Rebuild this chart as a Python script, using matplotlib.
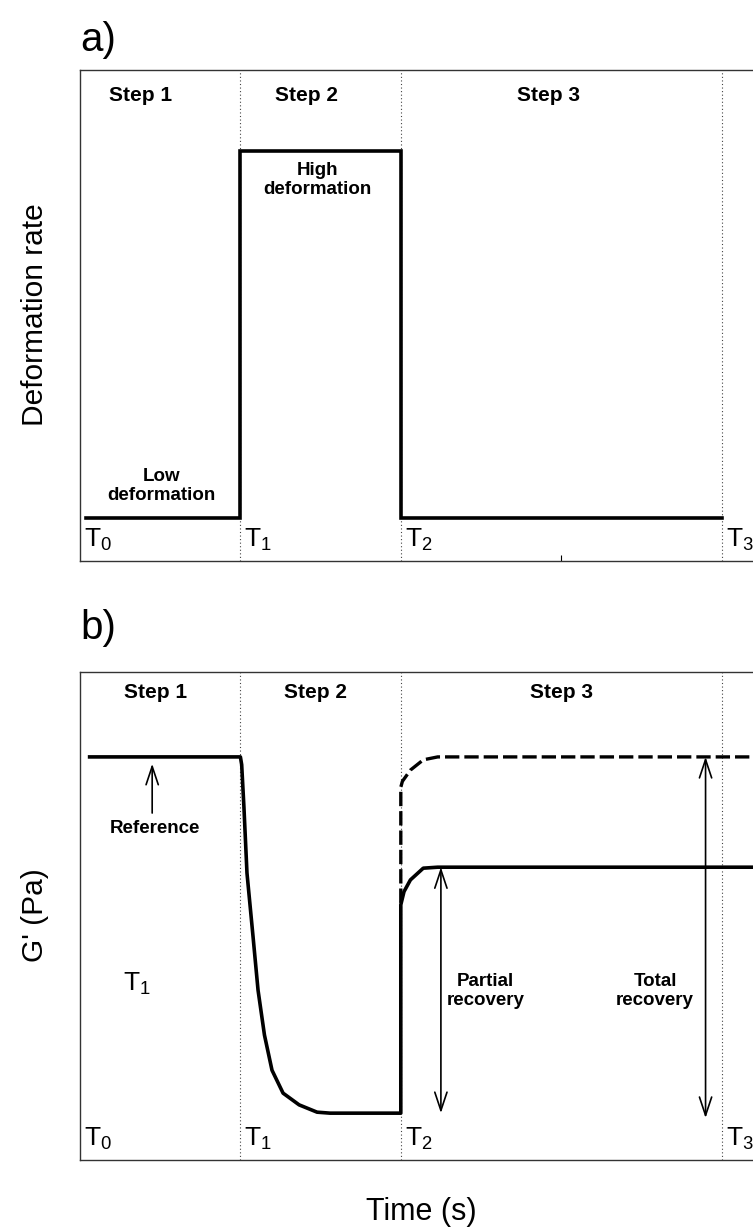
import matplotlib
matplotlib.use("Agg")
import matplotlib.pyplot as plt

plt.rcParams['font.family'] = ['Liberation Sans', 'DejaVu Sans']
plt.rcParams['mathtext.default'] = 'regular'

# time marks (T0..T3) and step labels
t_marks = [0, 1, 2, 4]
t_labels = ['0', '1', '2', '3']
step_names = ['Step 1', 'Step 2', 'Step 3']

# panel a: deformation rate step profile
rate_t = [0.04, 1.0, 1.0, 2.0, 2.0, 4.0]
rate_y = [0.088, 0.088, 0.835, 0.835, 0.088, 0.088]

# panel b: G' during step 1 and 2
g_t = [0.06, 1.0, 1.008, 1.022, 1.041, 1.079, 1.11, 1.15, 1.197, 1.266, 1.366, 1.478, 1.559, 2.0,
       2.0, 2.02, 2.06, 2.14, 2.23, 4.6]
g_y = [0.826, 0.826, 0.810, 0.723, 0.588, 0.457, 0.348, 0.256, 0.184, 0.137, 0.113, 0.098, 0.096, 0.096,
       0.523, 0.55, 0.574, 0.598, 0.600, 0.600]

# panel b: total recovery (dashed)
full_t = [2.0, 2.0, 2.01, 2.06, 2.14, 2.23, 4.6]
full_y = [0.527, 0.764, 0.776, 0.799, 0.820, 0.826, 0.826]

W, H = 753, 1232
fig = plt.figure(figsize=(W / 100, H / 100), dpi=100)

x_left = 80
px_per_unit = 160.4
xmax = 4.6
ax_w = xmax * px_per_unit / W

ax_a = fig.add_axes([x_left / W, 1 - 561 / H, ax_w, (561 - 70) / H])
ax_b = fig.add_axes([x_left / W, 1 - 1160 / H, ax_w, (1160 - 672) / H])

for ax in (ax_a, ax_b):
    ax.set_xlim(0, xmax)
    ax.set_ylim(0, 1)
    ax.set_yticks([])
    for s in ax.spines.values():
        s.set_linewidth(1.0)
        s.set_color('#333333')
    for t in t_marks[1:]:
        ax.axvline(t, color='#444444', lw=0.8, ls=(0, (1, 2.2)))
    for t, lab in zip(t_marks, t_labels):
        ax.text(t + 0.025, 0.016, r'$\mathregular{T_{' + lab + '}}$', fontsize=19,
                ha='left', va='bottom')

ax_a.set_xticks([3])
ax_a.tick_params(axis='x', direction='in', length=4, width=0.8, labelbottom=False)
ax_b.set_xticks([])

# panel a
ax_a.plot(rate_t, rate_y, color='black', lw=2.6, solid_joinstyle='miter')
for x, name in zip([0.38, 1.41, 2.92], step_names):
    ax_a.text(x, 0.949, name, fontsize=15, fontweight='bold', ha='center', va='center')
ax_a.text(0.51, 0.153, 'Low\ndeformation', fontsize=13.5, fontweight='bold', ha='center',
          va='center', linespacing=1.2)
ax_a.text(1.48, 0.776, 'High\ndeformation', fontsize=13.5, fontweight='bold', ha='center',
          va='center', linespacing=1.2)

# panel b
ax_b.plot(g_t, g_y, color='black', lw=2.6, solid_joinstyle='round')
ax_b.plot(full_t, full_y, color='black', lw=2.4, dashes=(4.3, 1.5))
for x, name in zip([0.47, 1.47, 3.0], step_names):
    ax_b.text(x, 0.959, name, fontsize=15, fontweight='bold', ha='center', va='center')

arrow_open = dict(arrowstyle='->,head_length=0.6,head_width=0.2', color='black', lw=1.2,
                  mutation_scale=22, shrinkA=0, shrinkB=0)
arrow_both = dict(arrowstyle='<->,head_length=0.6,head_width=0.2', color='black', lw=1.2,
                  mutation_scale=22, shrinkA=0, shrinkB=0)
ax_b.annotate('', xy=(0.45, 0.812), xytext=(0.45, 0.711), arrowprops=arrow_open)
ax_b.text(0.47, 0.680, 'Reference', fontsize=13.5, fontweight='bold', ha='center', va='center')
ax_b.annotate('', xy=(2.25, 0.600), xytext=(2.25, 0.096), arrowprops=arrow_both)
ax_b.annotate('', xy=(3.90, 0.826), xytext=(3.90, 0.086), arrowprops=arrow_both)
ax_b.text(2.53, 0.346, 'Partial\nrecovery', fontsize=13.5, fontweight='bold', ha='center',
          va='center', linespacing=1.2)
ax_b.text(3.585, 0.346, 'Total\nrecovery', fontsize=13.5, fontweight='bold', ha='center',
          va='center', linespacing=1.2)
ax_b.text(0.27, 0.335, r'$\mathregular{T_{1}}$', fontsize=19, ha='left', va='bottom')

# panel letters and axis titles
fig.text(80 / W, 1 - 40 / H, 'a)', fontsize=29, ha='left', va='center')
fig.text(80 / W, 1 - 628 / H, 'b)', fontsize=29, ha='left', va='center')
fig.text(35 / W, 1 - 315 / H, 'Deformation rate', fontsize=21.5, rotation=90,
         ha='center', va='center')
fig.text(35 / W, 1 - 915 / H, "G' (Pa)", fontsize=21.5, rotation=90, ha='center', va='center')
fig.text(421 / W, 1 - 1212 / H, 'Time (s)', fontsize=22, ha='center', va='center')

fig.savefig('out.png', dpi=100)
